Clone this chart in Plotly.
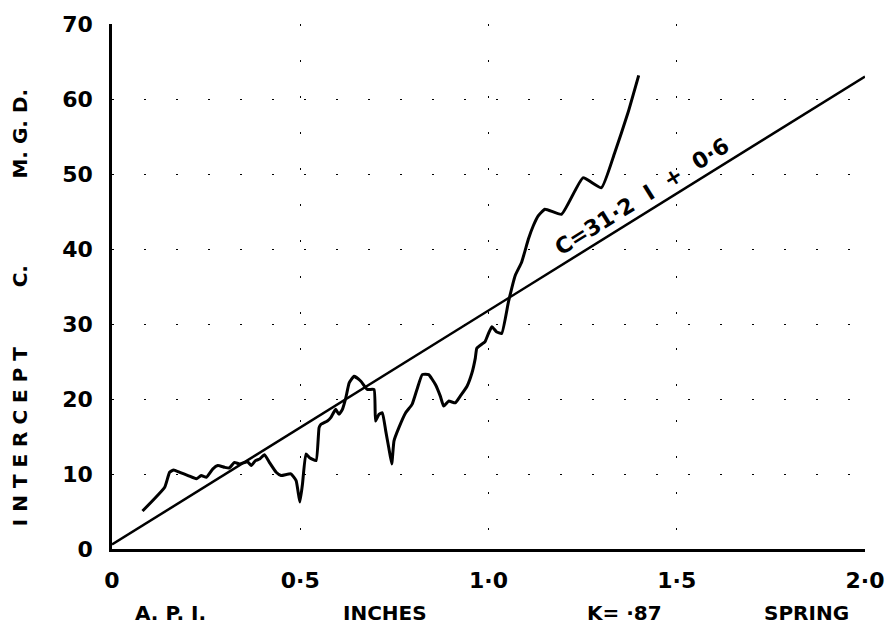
import plotly.graph_objects as go

# ---- data ----
api_inches = [0.081, 0.140, 0.153, 0.164, 0.180, 0.202, 0.224, 0.237, 0.251, 0.268,
              0.281, 0.299, 0.312, 0.325, 0.339, 0.360, 0.370, 0.381, 0.392, 0.405,
              0.418, 0.436, 0.449, 0.475, 0.489, 0.499, 0.506, 0.515, 0.524, 0.542,
              0.550, 0.555, 0.572, 0.581, 0.594, 0.603, 0.612, 0.621, 0.630, 0.643,
              0.661, 0.678, 0.696, 0.700, 0.709, 0.718, 0.727, 0.735, 0.743, 0.749,
              0.762, 0.780, 0.797, 0.810, 0.824, 0.841, 0.859, 0.872, 0.881, 0.894,
              0.912, 0.925, 0.943, 0.956, 0.965, 0.969, 0.991, 1.000, 1.009, 1.021,
              1.035, 1.053, 1.071, 1.088, 1.106, 1.119, 1.132, 1.150, 1.194, 1.251,
              1.300, 1.335, 1.370, 1.399]
intercept_c = [5.07, 8.24, 10.23, 10.55, 10.23, 9.79, 9.36, 9.79, 9.57, 10.68,
               11.12, 10.89, 10.81, 11.55, 11.34, 11.64, 11.12, 11.78, 12.00, 12.57,
               11.55, 10.23, 9.79, 10.02, 9.13, 6.26, 8.69, 12.66, 12.21, 11.78,
               16.18, 16.63, 17.07, 17.51, 18.62, 17.96, 18.62, 20.15, 22.14, 23.03,
               22.36, 21.27, 21.27, 17.07, 17.96, 18.17, 15.75, 13.54, 11.34, 14.42,
               16.18, 18.17, 19.28, 21.27, 23.25, 23.25, 21.93, 20.38, 19.05, 19.72,
               19.49, 20.38, 21.70, 23.46, 25.45, 26.77, 27.66, 28.75, 29.64, 28.98,
               28.75, 32.95, 36.48, 38.24, 41.33, 43.10, 44.42, 45.30, 44.63, 49.49,
               48.17, 52.80, 58.09, 63.16]

# regression line C = 31.2 I + 0.6
reg_slope = 31.2
reg_const = 0.6
reg_x = [0.0, 2.0]
reg_y = [reg_slope * x + reg_const for x in reg_x]

x_tickvals = [0, 0.5, 1.0, 1.5, 2.0]
x_ticktext = ["0", "0·5", "1·0", "1·5", "2·0"]
y_tickvals = [0, 10, 20, 30, 40, 50, 60, 70]
y_ticktext = ["0", "10", "20", "30", "40", "50", "60", "70"]

FONT = "DejaVu Sans"

fig = go.Figure()
fig.add_trace(go.Scatter(x=reg_x, y=reg_y, mode="lines",
                         line=dict(color="black", width=2.5), hoverinfo="skip"))
fig.add_trace(go.Scatter(x=api_inches, y=intercept_c, mode="lines",
                         line=dict(color="black", width=3, shape="spline", smoothing=0.4),
                         hoverinfo="skip"))

fig.update_layout(
    width=896, height=632,
    margin=dict(l=112, r=28, t=20, b=83),
    paper_bgcolor="white", plot_bgcolor="white",
    showlegend=False,
    font=dict(family=FONT, color="black"),
    xaxis=dict(range=[0, 2.0], tickvals=x_tickvals, ticktext=x_ticktext,
               showline=True, linecolor="black", linewidth=2.5,
               ticks="", ticklabelstandoff=10,
               tickfont=dict(family=FONT, size=22, weight="bold"),
               showgrid=True, gridcolor="black", gridwidth=1.2,
               griddash="2px,34px",
               zeroline=False),
    yaxis=dict(range=[0, 70], tickvals=y_tickvals, ticktext=y_ticktext,
               showline=True, linecolor="black", linewidth=2.5,
               ticks="", ticklabelstandoff=12,
               tickfont=dict(family=FONT, size=22, weight="bold"),
               showgrid=True, gridcolor="black", gridwidth=1.2,
               griddash="2px,30px",
               zeroline=False),
)

# regression equation along the line
lab_x = 1.43
fig.add_annotation(x=lab_x, y=reg_slope * lab_x + reg_const,
                   text="C=31·2  I  +  0·6", showarrow=False, textangle=-32,
                   xshift=-8, yshift=13,
                   font=dict(family=FONT, size=22, weight="bold"))

# bottom caption
for txt, px in [("A. P. I.", 0.078), ("INCHES", 0.363), ("K= ·87", 0.681), ("SPRING", 0.922)]:
    fig.add_annotation(xref="paper", yref="paper", x=px, y=-0.121, text=txt,
                       showarrow=False, xanchor="center", yanchor="middle",
                       font=dict(family=FONT, size=20, weight="bold"))

# y axis title pieces
for txt, py in [("I N T E R C E P T", 0.2155), ("C.", 0.52), ("M. G. D.", 0.792)]:
    fig.add_annotation(xref="paper", yref="paper", x=-0.1217, y=py, text=txt,
                       showarrow=False, textangle=-90, xanchor="center", yanchor="middle",
                       font=dict(family=FONT, size=20, weight="bold"))

fig.write_html("out.html", config={"displayModeBar": False},
               post_script="document.body.style.margin='0';document.body.style.padding='0';")
